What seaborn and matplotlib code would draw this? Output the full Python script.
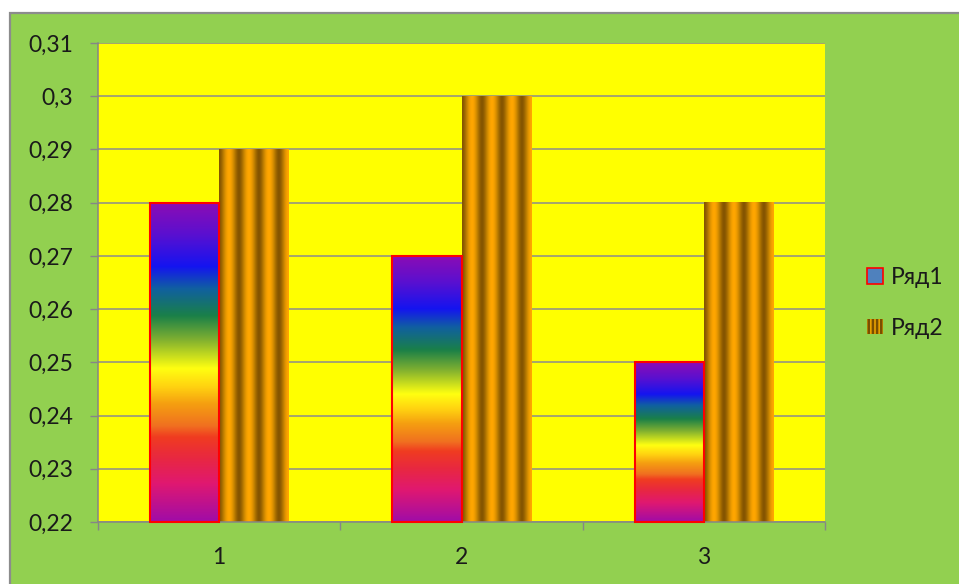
import numpy as np
import pandas as pd
import matplotlib
matplotlib.use("Agg")
import matplotlib.pyplot as plt
import seaborn as sns
from matplotlib.colors import LinearSegmentedColormap
from matplotlib.patches import Patch, Rectangle

# ---- data ----
categories = ["1", "2", "3"]
series_names = ["Ряд1", "Ряд2"]
row1 = [0.28, 0.27, 0.25]
row2 = [0.29, 0.30, 0.28]
y_ticks = [0.22, 0.23, 0.24, 0.25, 0.26, 0.27, 0.28, 0.29, 0.30, 0.31]
y_tick_labels = ["0,22", "0,23", "0,24", "0,25", "0,26", "0,27", "0,28", "0,29", "0,3", "0,31"]

df = pd.DataFrame({
    "category": categories * 2,
    "series": [series_names[0]] * len(categories) + [series_names[1]] * len(categories),
    "value": row1 + row2,
})

plt.rcParams["font.family"] = ["Lato", "DejaVu Sans"]
plt.rcParams["hatch.color"] = "#7A4E00"
plt.rcParams["hatch.linewidth"] = 1.8

W, H = 959, 584
fig = plt.figure(figsize=(W / 100, H / 100), dpi=100, facecolor="white")

# green chart area with grey frame
fig.patches.append(Rectangle((9.5 / W, -0.01), 1.0, (H - 12.5) / H + 0.01,
                             transform=fig.transFigure, facecolor="#92D050",
                             edgecolor="#8C8C8C", lw=1.6, zorder=-10))

ax = fig.add_axes([98 / W, 1 - 522 / H, (825 - 98) / W, (522 - 43) / H])
ax.set_facecolor("#FFFF00")

sns.barplot(data=df, x="category", y="value", hue="series", ax=ax,
            width=0.57, gap=0, palette=["#4F81BD", "#E8A000"],
            saturation=1, legend=False, errorbar=None)

ylo, yhi = y_ticks[0], y_ticks[-1]

rainbow = LinearSegmentedColormap.from_list("rainbow_fill", [
    (0.00, "#A00CA8"),
    (0.12, "#E01870"),
    (0.20, "#E82840"),
    (0.265, "#F03C20"),
    (0.30, "#F07020"),
    (0.37, "#F5A010"),
    (0.42, "#FFD010"),
    (0.48, "#FFFF10"),
    (0.57, "#80B030"),
    (0.645, "#1A8048"),
    (0.73, "#1060A0"),
    (0.80, "#1414F0"),
    (0.90, "#5A10D0"),
    (1.00, "#8C0CB4"),
])
brass = LinearSegmentedColormap.from_list("brass_fill", ["#845400", "#C08000", "#FFA600"])

t = np.linspace(0, 1, 400)
stripe = (0.5 - 0.5 * np.cos(2 * np.pi * 3.5 * t)) ** 0.85

for i, (container, vals) in enumerate(zip(ax.containers, [row1, row2])):
    for rect, v in zip(container.patches, vals):
        x0, w = rect.get_x(), rect.get_width()
        rect.set_y(ylo)
        rect.set_height(v - ylo)
        if i == 0:
            img = np.linspace(0, 1, 512).reshape(-1, 1)
            ax.imshow(img, cmap=rainbow, extent=[x0, x0 + w, ylo, v],
                      origin="lower", aspect="auto", zorder=1.5,
                      interpolation="bilinear")
            rect.set_facecolor("none")
            rect.set_edgecolor("#FF0000")
            rect.set_linewidth(1.5)
            rect.set_zorder(3)
            rect.set_clip_on(False)
        else:
            img = stripe.reshape(1, -1)
            ax.imshow(img, cmap=brass, extent=[x0, x0 + w, ylo, v],
                      origin="lower", aspect="auto", zorder=1.5,
                      interpolation="bilinear")
            rect.set_facecolor("none")
            rect.set_linewidth(0)

ax.set_xlim(-0.5, len(categories) - 0.5)
ax.set_ylim(ylo, yhi)
ax.set_xlabel("")
ax.set_ylabel("")

ax.set_yticks(y_ticks, y_tick_labels)
ax.tick_params(axis="y", length=5.8, width=1, color="#868686", pad=12,
               labelsize=16.5, labelcolor="#1A1A1A")
ax.set_xticks(range(len(categories)), categories)
ax.tick_params(axis="x", which="major", length=0, pad=18, labelsize=16.5,
               labelcolor="#1A1A1A")
ax.set_xticks([k - 0.5 for k in range(len(categories) + 1)], minor=True)
ax.tick_params(axis="x", which="minor", length=5.8, width=1, color="#868686")

ax.grid(axis="y", color="#8C8C8C", lw=1.1)
ax.grid(axis="x", visible=False)
ax.set_axisbelow(True)
for s in ["top", "right"]:
    ax.spines[s].set_visible(False)
for s in ["left", "bottom"]:
    ax.spines[s].set_color("#868686")
    ax.spines[s].set_linewidth(1.1)

handles = [
    Patch(facecolor="#4F81BD", edgecolor="#FF0000", lw=1.2),
    Patch(facecolor="#E8A000", edgecolor="#7A4E00", hatch="||||", lw=0),
]
fig.legend(handles, series_names, loc="center left",
           bbox_to_anchor=(858 / W, 1 - 303 / H), frameon=False,
           fontsize=16.5, handlelength=0.68, handleheight=0.65,
           handletextpad=0.35, labelspacing=1.3, borderaxespad=0,
           labelcolor="#1A1A1A")

fig.savefig("out.png", dpi=100, facecolor=fig.get_facecolor())
